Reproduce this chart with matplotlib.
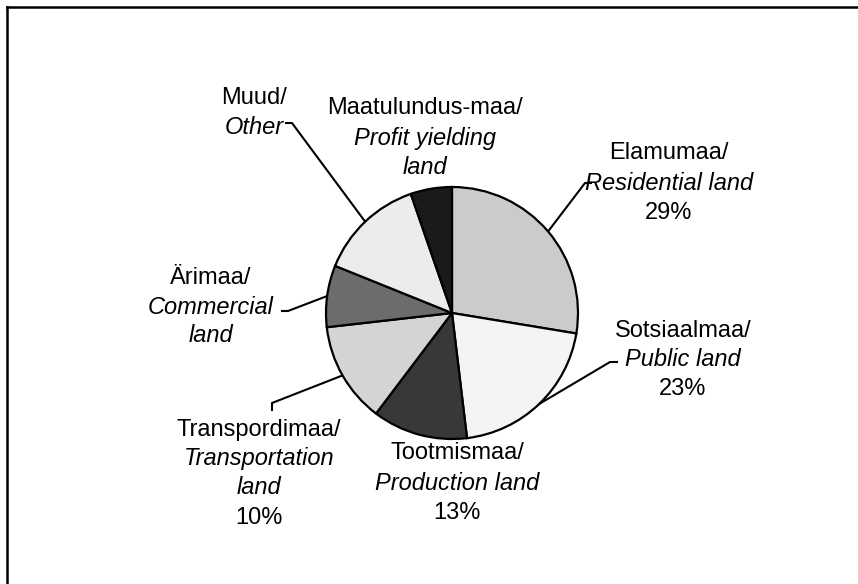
import numpy as np
import matplotlib.pyplot as plt

plt.rcParams['font.family'] = ['Liberation Sans', 'DejaVu Sans']

# osakaalud (joonise järgi hinnatud)
nimed_et = ["Elamumaa/", "Sotsiaalmaa/", "Tootmismaa/", "Transpordimaa/",
            "Ärimaa/", "Muud/", "Maatulundus-maa/"]
nimed_en = [["Residential land"], ["Public land"], ["Production land"],
            ["Transportation", "land"], ["Commercial", "land"], ["Other"],
            ["Profit yielding", "land"]]
protsendid = ["29%", "23%", "13%", "10%", "", "", ""]
osakaal = [27.6, 20.5, 12.2, 12.9, 7.9, 13.6, 5.3]
varvid = ["#cbcbcb", "#f4f4f4", "#383838", "#d4d4d4", "#6c6c6c", "#ececec", "#1a1a1a"]

W, H = 858, 584
fig = plt.figure(figsize=(W / 100, H / 100), dpi=100)
ax = fig.add_axes([0, 0, 1, 1])
ax.axis("off")

def py(y):
    return H - y

cx, cy, r = 452, 313, 126
wedges, _ = ax.pie(osakaal, colors=varvid, startangle=90, counterclock=False,
                   center=(cx, py(cy)), radius=r,
                   wedgeprops=dict(edgecolor="black", linewidth=1.6))
ax.set_xlim(0, W)
ax.set_ylim(0, H)
ax.set_aspect("equal")

# siltide paigutus: (x, [y read]) pikslites
paigutus = [
    (669, [153, 183, 213]),
    (683, [331, 360, 389]),
    (457, [453, 483, 513]),
    (259, [430, 459, 488, 518]),
    (211, [278, 307, 336]),
    (254, [98, 127]),
    (425, [108, 139, 168]),
]
# juhtjooned: indeks -> murdepunktid
juhtjooned = {
    0: [(585, 183), (592, 183)],
    1: [(610, 362), (618, 362)],
    3: [(272, 403), (272, 411)],
    4: [(288, 311), (281, 311)],
    5: [(292, 123), (285, 123)],
}

fs = 17
for i, w in enumerate(wedges):
    x, ys = paigutus[i]
    read = [(nimed_et[i], "normal")] + [(t, "italic") for t in nimed_en[i]]
    if protsendid[i]:
        read.append((protsendid[i], "normal"))
    for (tekst, stiil), y in zip(read, ys):
        ax.text(x, py(y), tekst, ha="center", va="center", fontsize=fs,
                style=stiil, color="black")
    if i in juhtjooned:
        nurk = np.deg2rad((w.theta1 + w.theta2) / 2)
        ex, ey = cx + r * np.cos(nurk), py(cy) + r * np.sin(nurk)
        xs = [ex] + [p[0] for p in juhtjooned[i]]
        yy = [ey] + [py(p[1]) for p in juhtjooned[i]]
        ax.plot(xs, yy, color="black", lw=1.5, solid_capstyle="butt")

# raam: ülemine ja vasak serv
ax.plot([7, W], [py(7), py(7)], color="black", lw=1.8, clip_on=False)
ax.plot([7, 7], [py(7), 0], color="black", lw=1.8, clip_on=False)

fig.savefig("out.png", dpi=100)
